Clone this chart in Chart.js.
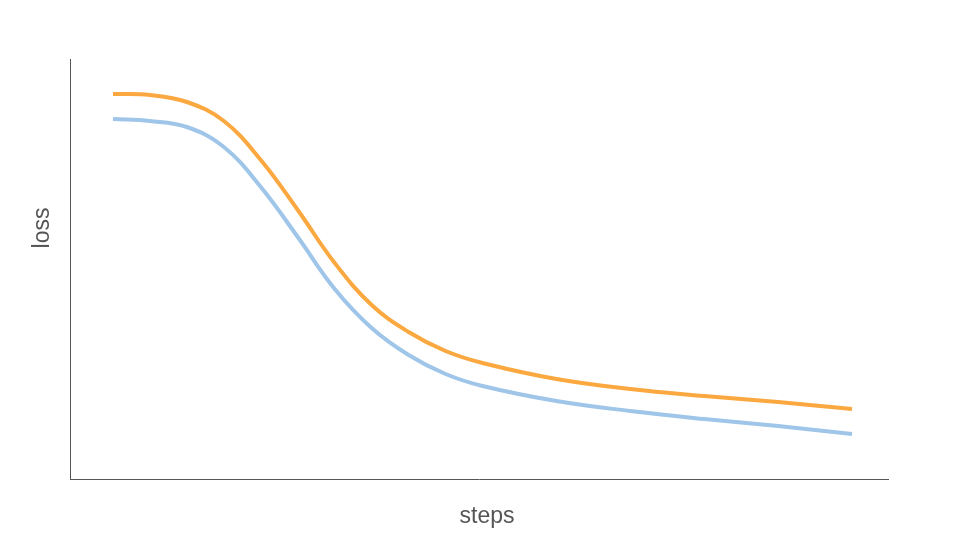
<!DOCTYPE html>
<html>
<head>
<meta charset="utf-8">
<script src="https://cdn.jsdelivr.net/npm/chart.js@4"></script>
<style>
    html, body { margin: 0; padding: 0; background: #fff; }
    #wrap { width: 960px; height: 540px; }
</style>
</head>
<body>
<div id="wrap"><canvas id="myChart" width="960" height="540"></canvas></div>
<script>
// valeurs
let steps = [0, 5, 10, 15, 20, 25, 30, 35, 40, 45, 50, 60, 70, 80, 90, 100];
let loss_orange = [3.85, 3.84, 3.77, 3.58, 3.19, 2.69, 2.16, 1.74, 1.47, 1.28, 1.16, 1.00, 0.90, 0.83, 0.77, 0.70];
let loss_bleu = [3.60, 3.58, 3.52, 3.32, 2.92, 2.42, 1.90, 1.51, 1.24, 1.05, 0.93, 0.78, 0.68, 0.60, 0.53, 0.45];

function points(xs, ys) {
    return xs.map((x, i) => {
        return {x: x, y: ys[i]};
    });
}

// titres des axes dessines a la main (position du modele)
const titres_axes = {
    id: 'titres_axes',
    afterDraw(chart) {
        const c = chart.ctx;
        c.save();
        c.fillStyle = '#555555';
        c.font = '23px "Liberation Sans", Arial, sans-serif';
        c.textAlign = 'center';
        c.textBaseline = 'alphabetic';
        c.fillText('steps', 487, 523);
        c.translate(49, 228);
        c.rotate(-Math.PI / 2);
        c.fillText('loss', 0, 0);
        c.restore();
    }
};

const ctx = document.getElementById('myChart');

let my_chart = new Chart(ctx, {
    type: 'line',
    data: {
        datasets: [{
            data: points(steps, loss_orange),
            borderColor: '#FAA83F',
            borderWidth: 4,
            pointRadius: 0,
            tension: 0.4,
            fill: false
        }, {
            data: points(steps, loss_bleu),
            borderColor: '#9FC5E9',
            borderWidth: 4,
            pointRadius: 0,
            tension: 0.4,
            fill: false
        }]
    },
    options: {
        responsive: false,
        animation: false,
        layout: {
            padding: {left: 70, top: 59, right: 72, bottom: 61}
        },
        plugins: {
            legend: {display: false},
            tooltip: {enabled: false}
        },
        scales: {
            x: {
                type: 'linear',
                min: -5.82,
                max: 104.87,
                grid: {display: false, drawTicks: false},
                border: {display: true, color: '#555555', width: 1},
                ticks: {display: false}
            },
            y: {
                min: 0,
                max: 4.2,
                grid: {display: false, drawTicks: false},
                border: {display: true, color: '#555555', width: 1},
                ticks: {display: false}
            }
        }
    },
    plugins: [titres_axes]
});
</script>
</body>
</html>
